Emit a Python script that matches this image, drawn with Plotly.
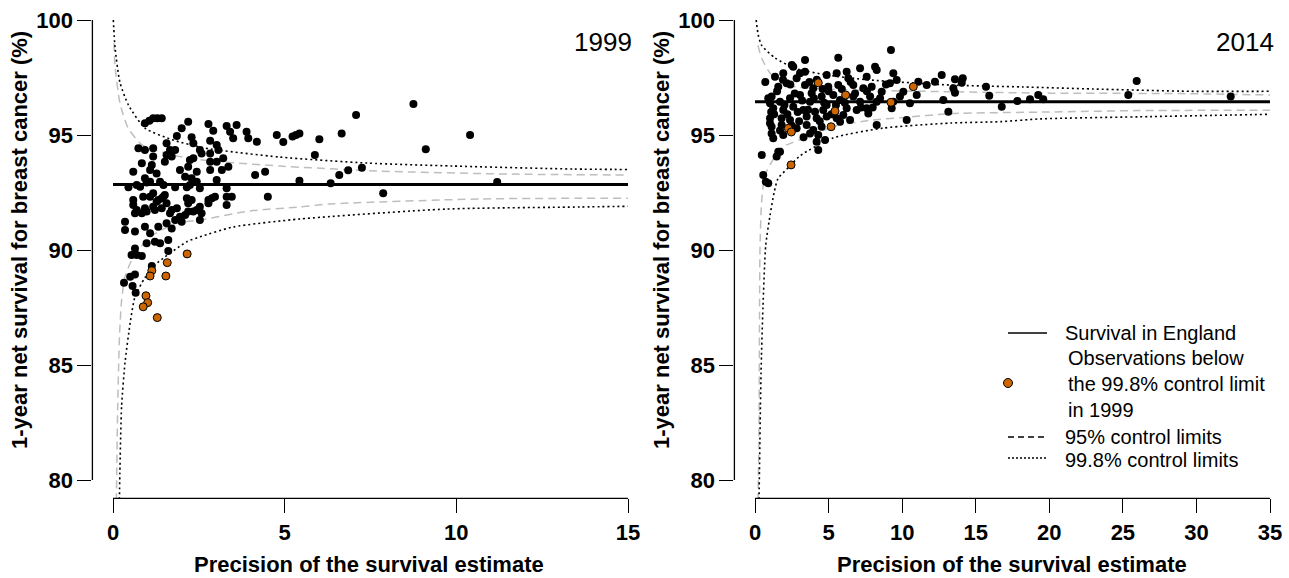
import plotly.graph_objects as go

W, H = 1289, 578
FONT = "Liberation Sans, Arial, sans-serif"

# ---------------- data: 1999 ----------------
mean_1999 = 92.85
prec_1999 = [0.93, 1.06, 1.17, 1.29, 1.42, 2.19, 2.78, 3.31, 3.60, 2.92, 2.00, 1.86, 2.29, 3.41, 3.50, 3.89, 3.94, 4.19, 4.77,
             1.56, 2.83, 3.02, 3.07, 2.34, 2.53, 0.74, 0.93, 1.17, 1.66, 1.81, 1.56, 1.71, 2.34, 2.58, 2.83, 1.17,
             0.84, 1.13, 1.51, 2.24, 2.83, 3.02, 3.21, 3.36, 3.17, 0.59, 1.08, 1.27, 1.95, 2.19, 2.44, 2.83, 4.14, 4.43,
             0.93, 1.08, 1.37, 2.10, 2.29, 2.44, 3.02, 0.79, 1.47,
             0.59, 0.88, 1.17, 1.32, 1.47, 1.56, 0.69, 0.93, 1.22, 2.15, 2.29, 2.53, 2.78, 2.97, 1.86, 2.19, 2.58, 3.31,
             3.46, 4.51, 0.45, 1.81, 2.15, 2.53, 3.31,
             0.69, 0.98, 2.24, 1.08, 1.27, 1.42, 1.51, 2.19, 2.88, 2.78, 3.31, 0.59, 1.17, 1.42, 1.71, 2.44,
             0.64, 0.84, 0.98, 1.66, 1.95, 2.10, 2.34, 2.53, 1.81, 0.35, 0.35, 0.64, 0.93, 1.32, 1.56, 1.71, 2.00,
             1.08, 1.22, 1.37, 0.98, 1.61, 1.61, 0.64, 0.54, 0.69, 0.84, 1.13, 0.64, 0.50, 0.32, 0.57, 0.66,
             4.96, 5.23, 5.33, 5.43, 5.88, 6.01, 6.66, 7.08, 8.75, 9.11, 10.4, 5.43, 6.34, 6.59, 6.85, 7.25, 7.87, 11.19]
surv_1999 = [95.51, 95.62, 95.73, 95.73, 95.73, 95.58, 95.48, 95.39, 95.43, 95.19, 95.29, 94.96, 94.90, 95.14, 94.86, 95.14, 94.86, 94.71, 95.00,
             94.64, 94.75, 94.57, 94.35, 94.64, 94.35, 94.42, 94.35, 94.42, 94.35, 94.35, 94.13, 94.06, 93.99, 94.20, 94.20, 94.06,
             93.77, 93.70, 93.84, 93.91, 93.84, 93.84, 93.99, 93.62, 93.48, 93.40, 93.48, 93.33, 93.48, 93.62, 93.40, 93.48, 93.26, 93.40,
             93.12, 92.97, 92.97, 93.19, 93.12, 92.97, 93.04, 92.75, 92.83,
             92.17, 92.32, 92.47, 92.17, 92.32, 92.03, 91.74, 91.81, 91.74, 92.25, 92.17, 91.88, 92.17, 92.32, 91.81, 91.67, 91.60, 92.32,
             92.32, 92.32, 92.73, 92.73, 92.73, 92.68, 92.68,
             92.83, 92.93, 92.83, 92.32, 92.10, 92.25, 92.39, 92.03, 92.25, 92.03, 91.96, 91.96, 91.88, 91.81, 91.74, 91.74,
             91.60, 91.60, 91.67, 91.60, 91.45, 91.52, 91.67, 91.30, 91.30, 91.23, 90.87, 90.80, 91.01, 91.01, 91.16, 90.94, 91.23,
             90.73, 90.36, 90.29, 90.29, 90.43, 89.96, 90.07, 89.78, 89.78, 89.74, 89.30, 88.94, 88.84, 88.58, 88.43, 88.14,
             94.70, 94.93, 95.00, 95.07, 94.13, 94.81, 95.07, 95.87, 96.35, 94.38, 95.00, 93.01, 92.90, 93.26, 93.47, 93.58, 92.47, 92.96]
low_prec_1999 = [2.16, 1.58, 1.13, 1.08, 1.54, 0.96, 1.01, 0.88, 1.29]
low_surv_1999 = [89.83, 89.45, 89.10, 88.87, 88.87, 88.01, 87.71, 87.53, 87.06]

u998_p_1999 = [0.01, 0.06, 0.2, 0.45, 0.93, 1.71, 2.68, 4.86, 7.4, 9.9, 13.4, 15]
u998_v_1999 = [100.0, 98.8, 97.3, 96.3, 95.3, 94.8, 94.43, 94.04, 93.78, 93.65, 93.52, 93.5]
u95_p_1999 = [0.03, 0.06, 0.2, 0.44, 0.85, 1.72, 2.68, 4.86, 7.8, 11.6, 15]
u95_v_1999 = [99.0, 98.0, 96.4, 95.3, 94.57, 94.13, 93.9, 93.65, 93.43, 93.3, 93.26]
l95_p_1999 = [0.095, 0.108, 0.137, 0.19, 0.25, 0.35, 0.59, 1.08, 1.86, 2.53, 4.0, 5.45, 6.3, 10.7, 15]
l95_v_1999 = [78.5, 80.3, 83.2, 86.3, 87.8, 88.83, 89.7, 90.57, 91.17, 91.3, 91.7, 91.87, 92.0, 92.22, 92.25]
l998_p_1999 = [0.18, 0.2, 0.25, 0.35, 0.5, 0.64, 0.93, 1.22, 2.15, 2.53, 3.5, 5.45, 9.7, 13.6, 15]
l998_v_1999 = [78.5, 80.3, 83.2, 85.1, 86.83, 87.96, 88.8, 89.35, 90.36, 90.57, 91.0, 91.35, 91.78, 91.87, 91.9]

# ---------------- data: 2014 ----------------
mean_2014 = 96.45
prec_2014 = [2.60, 3.40, 7.14, 8.16, 8.27, 9.40, 12.69, 1.36, 1.92, 2.83, 3.06, 4.87, 5.55, 6.23, 6.34, 7.59, 9.17, 9.63,
             11.10, 11.67, 12.23, 13.48, 1.58, 2.15, 3.40, 3.96, 4.98, 5.66, 6.68, 7.36, 7.93, 8.61, 10.08, 10.99,
             1.13, 1.70, 2.38, 3.06, 3.85, 4.53, 5.32, 5.78, 6.68, 7.14, 7.82, 8.27, 9.40, 9.85, 10.53, 12.80, 1.02, 3.74, 4.87,
             1.24, 1.92, 2.60, 3.28, 4.08, 4.64, 6.23, 6.91, 7.59, 7.70, 13.14, 9.29, 1.02, 1.81, 2.38, 3.51, 4.19, 4.87,
             5.55, 6.00, 6.46, 10.31, 8.27, 1.13, 1.81, 2.83, 3.51, 3.96, 4.53, 5.78, 1.24, 1.92, 3.74, 4.30, 4.76, 4.19,
             0.46, 1.58, 1.47, 4.30, 0.56,
             3.40, 5.66, 2.50, 9.24, 1.70, 0.90, 0.73, 1.02, 1.13,
             1.5, 2.0, 2.2, 2.7, 2.9, 3.2, 3.6, 4.0, 4.4, 4.7, 5.0, 5.2, 5.5, 5.9, 6.1, 6.5, 6.8, 7.2, 7.6, 8.0, 8.5, 8.9,
             1.3, 1.7, 2.5, 3.0, 3.3, 1.9, 2.4, 3.7, 4.2, 4.6, 1.1, 0.9, 0.7,
             13.59, 14.12, 14.05, 13.59, 15.70, 15.92, 16.77, 17.83, 18.69, 19.25, 19.59, 25.37, 25.94, 32.33]
surv_2014 = [97.97, 97.75, 97.90, 97.97, 97.83, 97.68, 97.61, 97.53, 97.68, 97.47, 97.68, 97.61, 97.68, 97.75, 97.47, 97.53, 97.25, 97.39,
             97.32, 97.17, 97.32, 97.03, 97.10, 97.25, 97.17, 97.03, 97.10, 97.17, 97.17, 97.03, 97.10, 96.88, 96.88, 96.74,
             96.67, 96.45, 96.60, 96.74, 96.81, 96.67, 96.74, 96.52, 96.67, 96.45, 96.67, 96.45, 96.45, 96.67, 96.38, 96.52, 96.38, 96.45, 96.30,
             96.16, 96.09, 96.23, 96.09, 96.01, 96.09, 96.16, 96.09, 96.16, 95.94, 96.01, 96.16, 95.73, 95.73, 95.65, 95.80, 95.73, 95.80,
             95.73, 95.87, 95.65, 95.65, 95.43, 95.36, 95.43, 95.29, 95.43, 95.22, 95.36, 95.58, 94.86, 95.00, 95.07, 95.00, 94.78, 94.71,
             94.13, 94.27, 94.06, 94.35, 93.26,
             98.26, 98.36, 98.04, 98.70, 94.27, 92.90, 92.97, 95.51, 95.07,
             96.9, 96.3, 95.9, 96.8, 96.0, 96.5, 96.1, 96.6, 95.6, 96.4, 96.9, 95.9, 96.3, 97.0, 96.4, 97.3, 96.8, 96.2, 96.9, 96.2, 96.6, 97.2,
             95.9, 95.2, 95.4, 95.6, 94.9, 97.4, 97.2, 97.3, 97.4, 97.0, 96.0, 96.6, 97.3,
             97.42, 97.47, 97.27, 96.84, 97.10, 96.71, 96.23, 96.48, 96.55, 96.74, 96.55, 96.74, 97.35, 96.67]
low_prec_2014 = [4.30, 6.16, 5.44, 5.17, 2.26, 2.47, 2.45, 9.24, 10.76]
low_surv_2014 = [97.27, 96.74, 96.04, 95.36, 95.29, 95.13, 93.70, 96.42, 97.10]

u998_p_2014 = [0.08, 0.22, 0.45, 1.36, 2.72, 4.98, 7.7, 13.3, 18.2, 23, 29.6, 35]
u998_v_2014 = [100.0, 99.35, 98.9, 98.35, 97.9, 97.6, 97.4, 97.17, 97.09, 97.0, 96.9, 96.9]
u95_p_2014 = [0.2, 0.45, 1.13, 2.72, 6.1, 13.3, 20, 29, 35]
u95_v_2014 = [98.9, 98.35, 97.6, 97.1, 96.97, 96.88, 96.82, 96.8, 96.74]
l95_p_2014 = [0.19, 0.27, 0.3, 0.34, 0.45, 0.68, 1.2, 1.9, 3.7, 5.5, 8, 9.9, 13.3, 20, 26, 35]
l95_v_2014 = [78.5, 82.0, 86.0, 90.1, 92.1, 93.26, 93.9, 94.48, 94.95, 95.4, 95.65, 95.75, 95.93, 96.0, 96.06, 96.08]
l998_p_2014 = [0.26, 0.41, 0.54, 0.73, 1.02, 1.3, 1.56, 2.45, 3.06, 5.3, 8.7, 13.3, 16.7, 19.4, 26.9, 35]
l998_v_2014 = [78.5, 84.65, 87.5, 90.2, 91.5, 92.5, 93.1, 93.7, 94.1, 94.87, 95.3, 95.52, 95.58, 95.7, 95.8, 95.9]

x_ticks_1999 = [0, 5, 10, 15]
x_ticks_2014 = [0, 5, 10, 15, 20, 25, 30, 35]
y_ticks = [80, 85, 90, 95, 100]
x_max_1999 = 15
x_max_2014 = 35

ORANGE = "#CC6600"
GREY = "#BEBEBE"

fig = go.Figure()


def add_panel(xa, ya, mean, xmax, prec, surv, lp, ls, u998p, u998v, u95p, u95v, l95p, l95v, l998p, l998v):
    common = dict(xaxis=xa, yaxis=ya, showlegend=False, hoverinfo="skip")
    fig.add_trace(go.Scatter(x=u95p, y=u95v, mode="lines", line=dict(color=GREY, width=1.5, dash="8px,5px", shape="spline", smoothing=0.6), **common))
    fig.add_trace(go.Scatter(x=l95p, y=l95v, mode="lines", line=dict(color=GREY, width=1.5, dash="8px,5px", shape="spline", smoothing=0.6), **common))
    fig.add_trace(go.Scatter(x=u998p, y=u998v, mode="lines", line=dict(color="black", width=1.6, dash="2px,3px", shape="spline", smoothing=0.6), **common))
    fig.add_trace(go.Scatter(x=l998p, y=l998v, mode="lines", line=dict(color="black", width=1.6, dash="2px,3px", shape="spline", smoothing=0.6), **common))
    fig.add_trace(go.Scatter(x=[0, xmax], y=[mean, mean], mode="lines", line=dict(color="black", width=3), **common))
    fig.add_trace(go.Scatter(x=prec, y=surv, mode="markers", marker=dict(color="black", size=8, line=dict(width=0)), **common))
    fig.add_trace(go.Scatter(x=lp, y=ls, mode="markers", marker=dict(color=ORANGE, size=8, line=dict(color="black", width=1)), **common))


add_panel("x", "y", mean_1999, x_max_1999, prec_1999, surv_1999, low_prec_1999, low_surv_1999,
          u998_p_1999, u998_v_1999, u95_p_1999, u95_v_1999, l95_p_1999, l95_v_1999, l998_p_1999, l998_v_1999)
add_panel("x2", "y2", mean_2014, x_max_2014, prec_2014, surv_2014, low_prec_2014, low_surv_2014,
          u998_p_2014, u998_v_2014, u95_p_2014, u95_v_2014, l95_p_2014, l95_v_2014, l998_p_2014, l998_v_2014)

tickfont = dict(family=FONT, size=22, color="black", weight="bold")
axis_common = dict(showgrid=False, zeroline=False, showline=False, ticks="outside", ticklen=14,
                   tickwidth=1.3, tickcolor="black", tickfont=tickfont, fixedrange=True)

ydom = [1 - 498.4 / H, 1 - 1.6 / H]
fig.update_layout(
    width=W, height=H, margin=dict(l=0, r=0, t=0, b=0),
    paper_bgcolor="white", plot_bgcolor="white",
    xaxis=dict(domain=[92.4 / W, 648.6 / W], range=[-0.6, 15.6], tickvals=x_ticks_1999, anchor="y", **axis_common),
    yaxis=dict(domain=ydom, range=[79.2, 100.8], tickvals=y_ticks, anchor="x", **axis_common),
    xaxis2=dict(domain=[734.4 / W, 1.0], range=[-1.4, 35 + (W - 1270) / 14.714], tickvals=x_ticks_2014, anchor="y2", **axis_common),
    yaxis2=dict(domain=ydom, range=[79.2, 100.8], tickvals=y_ticks, anchor="x2", **axis_common),
)

# R-style axis lines (span first to last tick)
shapes = []
for xa, ya, xmax in (("x", "y", x_max_1999), ("x2", "y2", x_max_2014)):
    shapes.append(dict(type="line", xref=f"{xa} domain", yref=ya, x0=0, x1=0, y0=y_ticks[0], y1=y_ticks[-1],
                       line=dict(color="black", width=1.3)))
    shapes.append(dict(type="line", xref=xa, yref=f"{ya} domain", x0=0, x1=xmax, y0=0, y1=0,
                       line=dict(color="black", width=1.3)))


def px(x):
    return x / W


def py(y):
    return 1 - y / H


# legend samples
shapes.append(dict(type="line", xref="paper", yref="paper", x0=px(1008), x1=px(1047), y0=py(333), y1=py(333),
                   line=dict(color="black", width=1.3)))
shapes.append(dict(type="line", xref="paper", yref="paper", x0=px(1008), x1=px(1047), y0=py(437), y1=py(437),
                   line=dict(color="black", width=1.3, dash="6px,4px")))
shapes.append(dict(type="line", xref="paper", yref="paper", x0=px(1008), x1=px(1047), y0=py(458), y1=py(458),
                   line=dict(color="black", width=1.3, dash="2px,2px")))
shapes.append(dict(type="circle", xref="paper", yref="paper", x0=px(1003.5), x1=px(1012.5), y0=py(387.5), y1=py(378.5),
                   fillcolor=ORANGE, line=dict(color="black", width=1)))
fig.update_layout(shapes=shapes)

ann = []
title_font = dict(family=FONT, size=22, color="black", weight="bold")
for cx in (369, 1012):
    ann.append(dict(text="Precision of the survival estimate", x=px(cx), y=0, xref="paper", yref="paper",
                    showarrow=False, xanchor="center", yanchor="bottom", borderpad=0, font=title_font))
for cx in (20, 662):
    ann.append(dict(text="1-year net survival for breast cancer (%)", x=px(cx), y=py(240), xref="paper", yref="paper",
                    showarrow=False, xanchor="center", yanchor="middle", textangle=-90, font=title_font))
year_font = dict(family=FONT, size=26, color="black")
ann.append(dict(text="1999", x=px(634), y=py(42), xref="paper", yref="paper", showarrow=False,
                xanchor="right", yanchor="middle", font=year_font))
ann.append(dict(text="2014", x=px(1276), y=py(42), xref="paper", yref="paper", showarrow=False,
                xanchor="right", yanchor="middle", font=year_font))
leg_font = dict(family=FONT, size=20, color="black")
ann.append(dict(text="Survival in England", x=px(1063), y=py(333), xref="paper", yref="paper", showarrow=False,
                xanchor="left", yanchor="middle", font=leg_font))
ann.append(dict(text="Observations below<br>the 99.8% control limit<br>in 1999", x=px(1066), y=py(384), xref="paper",
                yref="paper", showarrow=False, xanchor="left", yanchor="middle", align="left", font=leg_font))
ann.append(dict(text="95% control limits", x=px(1063), y=py(437), xref="paper", yref="paper", showarrow=False,
                xanchor="left", yanchor="middle", font=leg_font))
ann.append(dict(text="99.8% control limits", x=px(1063), y=py(460), xref="paper", yref="paper", showarrow=False,
                xanchor="left", yanchor="middle", font=leg_font))
fig.update_layout(annotations=ann)

fig.write_html("out.html", config={"displayModeBar": False},
               post_script="document.body.style.margin='0';document.body.style.padding='0';document.body.style.overflow='hidden';")
